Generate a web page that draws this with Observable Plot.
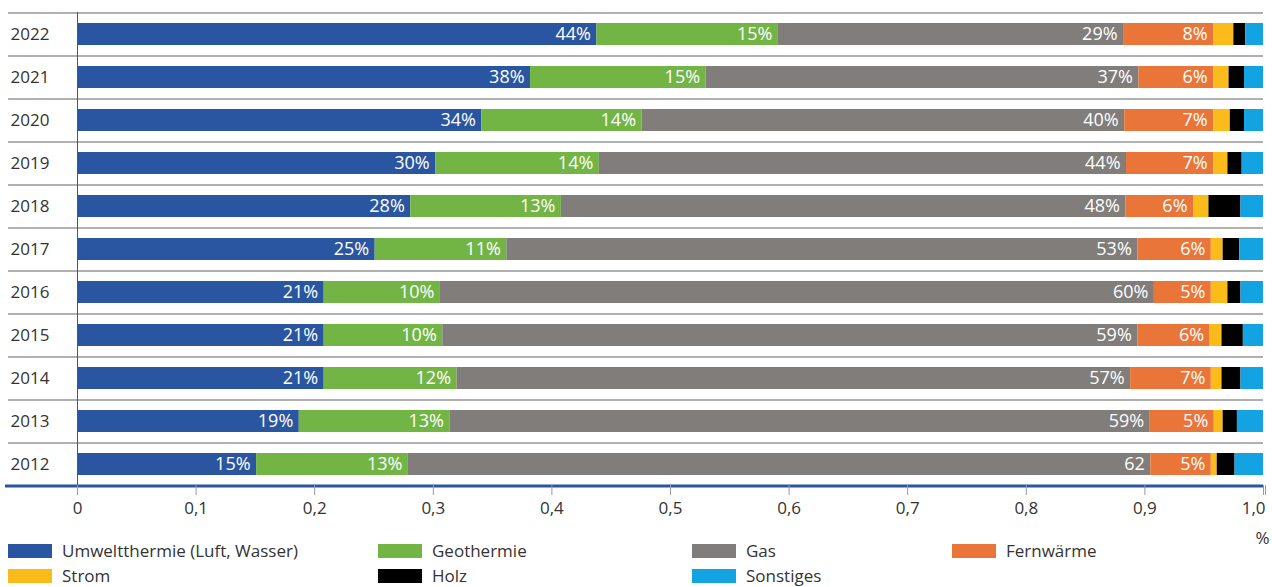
<!DOCTYPE html>
<html><head><meta charset="utf-8">
<script src="https://cdn.jsdelivr.net/npm/d3@7"></script>
<script src="https://cdn.jsdelivr.net/npm/@observablehq/plot@0.6"></script>
<style>
body{margin:0;background:#fff;font-family:"Open Sans",sans-serif;}
#chart{position:relative;width:1272px;height:587px;overflow:hidden;}
.leg{position:absolute;display:flex;align-items:center;font-size:17px;color:#333;height:18px;line-height:18px;}
.sw{width:44px;height:14px;margin-right:10px;flex:none;}
</style></head><body><div id="chart"></div>
<script>
const years = ["2022","2021","2020","2019","2018","2017","2016","2015","2014","2013","2012"];
const seriesNames = ["Umweltthermie (Luft, Wasser)","Geothermie","Gas","Fernwärme","Strom","Holz","Sonstiges"];
const seriesColors = ["#2a55a0","#72b545","#807d7a","#ea7538","#fbbc1b","#000000","#13a2e2"];
const umwelt    = [0.438,0.382,0.341,0.302,0.281,0.251,0.208,0.208,0.208,0.187,0.151];
const geo       = [0.153,0.148,0.135,0.138,0.127,0.111,0.098,0.100,0.112,0.127,0.128];
const gas       = [0.291,0.365,0.407,0.4445,0.476,0.532,0.602,0.586,0.568,0.5905,0.626];
const fern      = [0.076,0.063,0.075,0.0735,0.057,0.062,0.048,0.061,0.068,0.054,0.051];
const strom     = [0.017,0.013,0.014,0.012,0.013,0.010,0.014,0.010,0.009,0.0075,0.005];
const holz      = [0.010,0.013,0.012,0.012,0.027,0.014,0.011,0.018,0.016,0.012,0.015];
const sonst     = [0.015,0.016,0.016,0.018,0.019,0.020,0.019,0.017,0.019,0.022,0.024];
const labUmwelt = ["44%","38%","34%","30%","28%","25%","21%","21%","21%","19%","15%"];
const labGeo    = ["15%","15%","14%","14%","13%","11%","10%","10%","12%","13%","13%"];
const labGas    = ["29%","37%","40%","44%","48%","53%","60%","59%","57%","59%","62"];
const labFern   = ["8%","6%","7%","7%","6%","6%","5%","6%","7%","5%","5%"];
const xTicks = [0,0.1,0.2,0.3,0.4,0.5,0.6,0.7,0.8,0.9,1.0];
const xLastTick = [1.0];

const seriesValues = [umwelt, geo, gas, fern, strom, holz, sonst];
const seriesLabels = [labUmwelt, labGeo, labGas, labFern, null, null, null];
const rows = [];
years.forEach((y, i) => {
  seriesNames.forEach((s, j) => {
    rows.push({year: y, series: s, value: seriesValues[j][i], label: seriesLabels[j] ? seriesLabels[j][i] : ""});
  });
});
const fmt = d => d === 0 ? "0" : d.toFixed(1).replace(".", ",");

const plot = Plot.plot({
  width: 1272, height: 546,
  marginLeft: 77, marginRight: 9, marginTop: 12, marginBottom: 61,
  style: {fontFamily: "Open Sans, sans-serif", fontSize: "17px", color: "#333", background: "white", overflow: "visible"},
  x: {domain: [0, 1]},
  y: {domain: years, paddingInner: 0.49, paddingOuter: 0.245, axis: null},
  color: {domain: seriesNames, range: seriesColors},
  marks: [
    Plot.ruleY(years, {y: d => d, dy: -21.5, stroke: "#b0b0b0", strokeWidth: 2, insetLeft: -69}),
    Plot.barX(rows, Plot.stackX({y: "year", x: "value", fill: "series"})),
    Plot.text(rows, Plot.stackX2({y: "year", x: "value", text: "label", textAnchor: "end", dx: -6, fill: "white", fontSize: 18})),
    Plot.ruleX([0], {stroke: "#555", strokeWidth: 1}),
    Plot.ruleY([years[years.length - 1]], {y: d => d, dy: 21.5, stroke: "#2a55a0", strokeWidth: 3, insetLeft: -72}),
    Plot.text(years, {y: d => d, frameAnchor: "left", dx: -67, textAnchor: "start", fill: "#333", fontSize: 17}),
    Plot.axisX({ticks: xTicks, tickFormat: d => d === 1 ? "" : fmt(d), tickSize: 10, tickPadding: 6, stroke: "#999", fill: "#333", label: "%", labelAnchor: "right", labelArrow: "none", fontSize: 17}),
    Plot.axisX({ticks: xLastTick, tickFormat: fmt, tickSize: 10, tickPadding: 6, stroke: "#999", fill: "#333", textAnchor: "end", dx: 2, label: null, fontSize: 17})
  ]
});
const chart = document.getElementById("chart");
chart.appendChild(plot);

const legendPos = [[8,542],[378,542],[692,542],[952,542],[8,567],[378,567],[692,567]];
seriesNames.forEach((s, j) => {
  const d = document.createElement("div");
  d.className = "leg";
  d.style.left = legendPos[j][0] + "px";
  d.style.top = legendPos[j][1] + "px";
  d.innerHTML = `<span class="sw" style="background:${seriesColors[j]}"></span><span>${s}</span>`;
  chart.appendChild(d);
});
</script>
</body></html>
